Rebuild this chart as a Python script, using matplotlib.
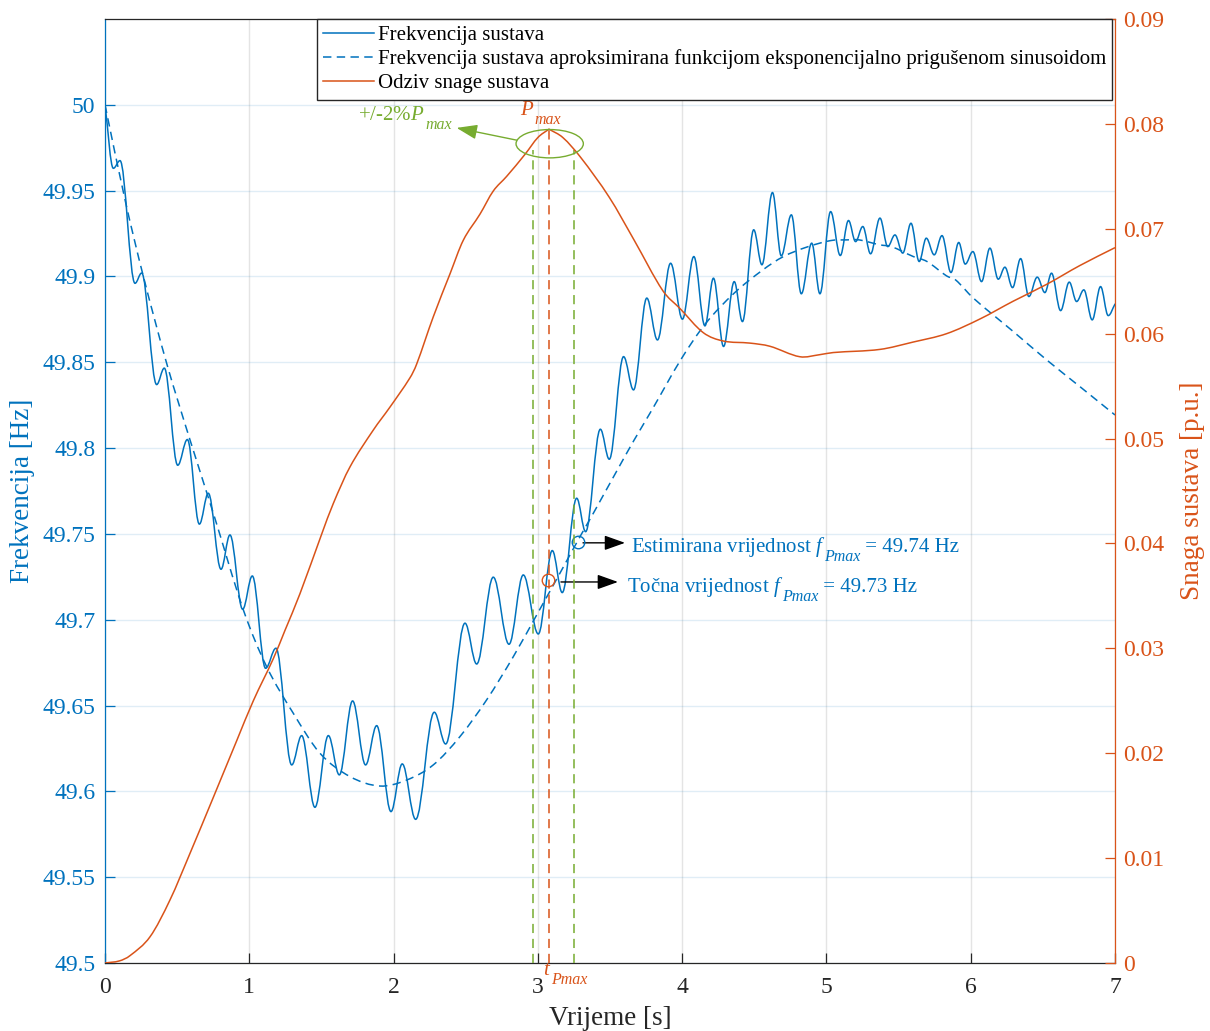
import matplotlib
matplotlib.use('Agg')
import matplotlib.pyplot as plt
from matplotlib.path import Path
from matplotlib.patches import PathPatch, Ellipse, ArrowStyle
from matplotlib.lines import Line2D

plt.rcParams['font.family'] = ['Liberation Serif', 'DejaVu Serif']
plt.rcParams['mathtext.fontset'] = 'custom'
plt.rcParams['mathtext.rm'] = 'Liberation Serif'
plt.rcParams['mathtext.it'] = 'Liberation Serif:italic'
plt.rcParams['mathtext.bf'] = 'Liberation Serif:bold'

BLUE = '#0072BD'
ORANGE = '#D95319'
GREEN = '#77AC30'
DARK = '#262626'

# ---------------- data ----------------
# system frequency (local extrema of the oscillating response)
freq_t = [0.000, 0.058, 0.104, 0.208, 0.254, 0.358, 0.411, 0.504, 0.571, 0.654,
          0.716, 0.804, 0.866, 0.954, 1.021, 1.113, 1.185, 1.294, 1.363, 1.455,
          1.548, 1.624, 1.716, 1.806, 1.883, 1.982, 2.060, 2.153, 2.282, 2.361,
          2.495, 2.576, 2.691, 2.800, 2.899, 3.003, 3.100, 3.169, 3.269, 3.331,
          3.433, 3.495, 3.594, 3.663, 3.755, 3.829, 3.920, 4.002, 4.081, 4.158,
          4.217, 4.287, 4.361, 4.418, 4.496, 4.553, 4.626, 4.687, 4.757, 4.826,
          4.898, 4.955, 5.029, 5.096, 5.153, 5.202, 5.252, 5.306, 5.371, 5.425,
          5.475, 5.529, 5.586, 5.643, 5.692, 5.747, 5.801, 5.863, 5.917, 5.962,
          6.015, 6.075, 6.133, 6.191, 6.237, 6.290, 6.346, 6.403, 6.461, 6.514,
          6.560, 6.623, 6.683, 6.734, 6.784, 6.842, 6.900, 6.953, 7.000]
freq_f = [50.000, 49.963, 49.9675, 49.896, 49.902, 49.837, 49.8466, 49.790, 49.805, 49.7557,
          49.7737, 49.7294, 49.7494, 49.7061, 49.7255, 49.6717, 49.6834, 49.6154, 49.6325, 49.5907,
          49.6325, 49.6096, 49.6527, 49.6154, 49.6383, 49.5882, 49.6160, 49.5837, 49.6461, 49.6276,
          49.6980, 49.6742, 49.7248, 49.6857, 49.7261, 49.6917, 49.7403, 49.7158, 49.7708, 49.7513,
          49.8110, 49.7935, 49.8533, 49.8339, 49.8874, 49.8630, 49.9077, 49.8751, 49.9116, 49.8712,
          49.8990, 49.8592, 49.8970, 49.8737, 49.9272, 49.9068, 49.9489, 49.9120, 49.9359, 49.8899,
          49.9194, 49.8899, 49.9378, 49.9122, 49.9326, 49.9203, 49.9291, 49.9132, 49.9340, 49.9174,
          49.9242, 49.9136, 49.9310, 49.9087, 49.9223, 49.9126, 49.9238, 49.9023, 49.9198, 49.9072,
          49.9145, 49.8970, 49.9165, 49.8984, 49.9054, 49.8935, 49.9104, 49.8883, 49.8996, 49.8906,
          49.9019, 49.8801, 49.8967, 49.8854, 49.8922, 49.8747, 49.8941, 49.8772, 49.8839]

# frequency approximated by exponentially damped sinusoid
fit_t = [0.000, 0.139, 0.266, 0.427, 0.589, 0.751, 0.959, 1.120, 1.305, 1.490,
         1.698, 1.906, 2.091, 2.275, 2.460, 2.645, 2.830, 2.992, 3.153, 3.292,
         3.371, 3.470, 3.569, 3.668, 3.791, 3.990, 4.160, 4.361, 4.559, 4.700,
         4.860, 5.029, 5.140, 5.227, 5.371, 5.450, 5.602, 5.697, 5.833, 5.895,
         6.018, 6.295, 6.526, 6.757, 7.000]
fit_f = [50.000, 49.9446, 49.900, 49.8495, 49.8048, 49.762, 49.7057, 49.6727, 49.6455, 49.6222,
         49.6086, 49.6031, 49.6066, 49.6154, 49.6319, 49.6533, 49.6785, 49.7028, 49.7271, 49.7484,
         49.7600, 49.7750, 49.7900, 49.8048, 49.8223, 49.8514, 49.8723, 49.8903, 49.9038, 49.9115,
         49.9170, 49.9209, 49.9213, 49.9213, 49.9184, 49.9174, 49.9116, 49.9087, 49.9003, 49.8980,
         49.8874, 49.8679, 49.8514, 49.8358, 49.8193]

# system power response
power_t = [0.000, 0.100, 0.173, 0.312, 0.450, 0.589, 0.751, 0.913, 1.028, 1.166,
           1.247, 1.351, 1.502, 1.582, 1.698, 1.859, 1.975, 2.114, 2.160, 2.275,
           2.391, 2.483, 2.599, 2.691, 2.784, 2.911, 3.000, 3.077, 3.173, 3.297,
           3.495, 3.668, 3.866, 3.985, 4.146, 4.285, 4.470, 4.608, 4.816, 4.955,
           5.047, 5.371, 5.601, 5.833, 6.064, 6.295, 6.526, 6.757, 7.000]
power_p = [0.0000, 0.0002, 0.0007, 0.0025, 0.0060, 0.01045, 0.0158, 0.0212, 0.0250, 0.0290,
           0.0317, 0.0352, 0.0409, 0.0438, 0.0473, 0.0508, 0.0530, 0.0558, 0.0571, 0.0616,
           0.0657, 0.0689, 0.0714, 0.0736, 0.0750, 0.0771, 0.0787, 0.0795, 0.0787, 0.0768,
           0.0730, 0.0689, 0.0641, 0.0624, 0.0601, 0.0593, 0.0591, 0.0588, 0.0578, 0.0580,
           0.0582, 0.0585, 0.0592, 0.0600, 0.0614, 0.0631, 0.0647, 0.0665, 0.0682]

x_ticks = [0, 1, 2, 3, 4, 5, 6, 7]
x_tick_labels = ['0', '1', '2', '3', '4', '5', '6', '7']
f_ticks = [49.5, 49.55, 49.6, 49.65, 49.7, 49.75, 49.8, 49.85, 49.9, 49.95, 50.0]
f_tick_labels = ['49.5', '49.55', '49.6', '49.65', '49.7', '49.75', '49.8', '49.85', '49.9', '49.95', '50']
p_ticks = [0, 0.01, 0.02, 0.03, 0.04, 0.05, 0.06, 0.07, 0.08, 0.09]
p_tick_labels = ['0', '0.01', '0.02', '0.03', '0.04', '0.05', '0.06', '0.07', '0.08', '0.09']

legend_labels = ['Frekvencija sustava',
                 'Frekvencija sustava aproksimirana funkcijom eksponencijalno prigušenom sinusoidom',
                 'Odziv snage sustava']

t_pmax = 3.077
p_max = 0.0795
band_t = [2.966, 3.250]
band_p = 0.07755
f_est_point = (3.278, 49.745)
f_exact_point = (3.070, 49.7232)
est_parts = ['Estimirana vrijednost $f$', 'Pmax', ' = 49.74 Hz']
exact_parts = ['Točna vrijednost $f$', 'Pmax', ' = 49.73 Hz']

# ---------------- figure ----------------
fig = plt.figure(figsize=(12.10, 10.31), dpi=100)
ax = fig.add_axes([105 / 1210, 1 - 963 / 1031, 1010 / 1210, 944 / 1031])
ax2 = ax.twinx()

TICK_FS = 17
LABEL_FS = 19.5
TXT_FS = 15
SUB_FS = 11.5
SUB_DROP = -6.5


def extrema_path(t, y, k=0.3642):
    """Smooth rendering through extrema: horizontal tangents at each point."""
    verts = [(t[0], y[0])]
    codes = [Path.MOVETO]
    n = len(t)
    for i in range(n - 1):
        dt = t[i + 1] - t[i]
        dy = y[i + 1] - y[i]
        c1y = y[i] if i > 0 else y[i] + k * dy
        c2y = y[i + 1] if i + 1 < n - 1 else y[i + 1] - k * dy
        verts += [(t[i] + k * dt, c1y), (t[i + 1] - k * dt, c2y), (t[i + 1], y[i + 1])]
        codes += [Path.CURVE4] * 3
    return Path(verts, codes)


def hermite_path(t, y, sharp=()):
    """Smooth rendering through points (cubic Hermite, Catmull-Rom slopes)."""
    n = len(t)
    verts = [(t[0], y[0])]
    codes = [Path.MOVETO]

    def slope(i):
        if i in sharp:
            return None
        a = max(i - 1, 0)
        b = min(i + 1, n - 1)
        return (y[b] - y[a]) / (t[b] - t[a])

    for i in range(n - 1):
        dt = t[i + 1] - t[i]
        s1 = slope(i)
        s2 = slope(i + 1)
        if s1 is None:
            s1 = (y[i + 1] - y[i]) / dt
        if s2 is None:
            s2 = (y[i + 1] - y[i]) / dt
        verts += [(t[i] + dt / 3, y[i] + s1 * dt / 3),
                  (t[i + 1] - dt / 3, y[i + 1] - s2 * dt / 3),
                  (t[i + 1], y[i + 1])]
        codes += [Path.CURVE4] * 3
    return Path(verts, codes)


def sub_text(axis, x, y, parts, color, gap=0.0):
    """Main text + lowered italic subscript + trailing text, MATLAB TeX style."""
    t1 = axis.text(x, y, parts[0], color=color, fontsize=TXT_FS, ha='left',
                   va='baseline', clip_on=False)
    t2 = axis.annotate(parts[1], xy=(1, y), xycoords=(t1, 'data'),
                       xytext=(gap, SUB_DROP), textcoords='offset points',
                       color=color, fontsize=SUB_FS, style='italic',
                       ha='left', va='baseline', annotation_clip=False)
    if len(parts) > 2:
        axis.annotate(parts[2], xy=(1, y), xycoords=(t2, 'data'),
                      xytext=(0, 0), textcoords='offset points',
                      color=color, fontsize=TXT_FS, ha='left', va='baseline',
                      annotation_clip=False)


# left axis: frequency
ax.set_xlim(0, 7)
ax.set_ylim(49.5, 50.05)
ax.add_patch(PathPatch(extrema_path(freq_t, freq_f), fill=False, edgecolor=BLUE,
                       lw=1.1, joinstyle='round', capstyle='round', zorder=3))
ax.add_patch(PathPatch(hermite_path(fit_t, fit_f), fill=False, edgecolor=BLUE,
                       lw=1.1, ls=(0, (5.5, 3.5)), zorder=3))

ax.set_xticks(x_ticks)
ax.set_xticklabels(x_tick_labels)
ax.set_yticks(f_ticks)
ax.set_yticklabels(f_tick_labels)
ax.tick_params(axis='x', direction='in', length=7, width=0.9, colors=DARK,
               labelsize=TICK_FS, pad=10)
ax.tick_params(axis='y', direction='in', length=7, width=0.9, colors=BLUE,
               labelsize=TICK_FS, pad=7)
ax.xaxis.grid(True, color=DARK, alpha=0.12, lw=1.0)
ax.yaxis.grid(True, color=BLUE, alpha=0.12, lw=1.0)
ax.set_axisbelow(True)
ax.spines['left'].set_color(BLUE)
ax.spines['right'].set_visible(False)
ax.spines['top'].set_color(DARK)
ax.spines['bottom'].set_color(DARK)
for s in ax.spines.values():
    s.set_linewidth(0.9)
ax.set_xlabel('Vrijeme [s]', fontsize=LABEL_FS, color=DARK, labelpad=6)
ax.set_ylabel('Frekvencija [Hz]', fontsize=LABEL_FS, color=BLUE, labelpad=5)

# right axis: power
ax2.set_ylim(0, 0.09)
ax2.set_xlim(0, 7)
ax2.add_patch(PathPatch(hermite_path(power_t, power_p, sharp=(27,)), fill=False,
                        edgecolor=ORANGE, lw=1.1, joinstyle='round', zorder=3))
ax2.set_yticks(p_ticks)
ax2.set_yticklabels(p_tick_labels)
ax2.tick_params(axis='y', direction='in', length=7, width=0.9, colors=ORANGE,
                labelsize=TICK_FS, pad=6)
ax2.spines['right'].set_color(ORANGE)
ax2.spines['right'].set_linewidth(0.9)
for side in ['left', 'top', 'bottom']:
    ax2.spines[side].set_visible(False)
ax2.set_ylabel('Snaga sustava [p.u.]', fontsize=LABEL_FS, color=ORANGE, labelpad=11)

# P_max band markers
dash = (0, (6, 3.8))
for tb in band_t:
    ax2.plot([tb, tb], [0, band_p], color=GREEN, lw=1.1, ls=dash, zorder=2)
ax2.plot([t_pmax, t_pmax], [0, p_max], color=ORANGE, lw=1.1, ls=dash, zorder=2)
ax2.add_patch(Ellipse((3.082, 0.07811), 0.4664, 0.0027, fill=False,
                      edgecolor=GREEN, lw=1.0, zorder=4))
arrow_style = ArrowStyle('-|>', head_length=0.7, head_width=0.25)
ax2.annotate('', xy=(2.437, 0.07962), xytext=(2.853, 0.07845),
             arrowprops=dict(arrowstyle=arrow_style, color=GREEN, lw=1.0,
                             shrinkA=0, shrinkB=0, mutation_scale=18))
sub_text(ax2, 1.755, 0.08041, ['+/-2%$P$', 'max'], GREEN, gap=0.3)
sub_text(ax2, 2.876, 0.08088, ['$P$', 'max'], ORANGE, gap=0.3)
sub_text(ax2, 3.033, -0.00114, ['$t$', 'Pmax'], ORANGE, gap=0.0)

# frequency at P_max markers
ax.plot([f_est_point[0]], [f_est_point[1]], 'o', ms=9, mfc='none', mec=BLUE, mew=1.0, zorder=5)
ax.plot([f_exact_point[0]], [f_exact_point[1]], 'o', ms=9, mfc='none', mec=ORANGE, mew=1.0, zorder=5)
ax.annotate('', xy=(3.604, 49.7448), xytext=(3.313, 49.7448),
            arrowprops=dict(arrowstyle=arrow_style, color='k', lw=1.0,
                            shrinkA=0, shrinkB=0, mutation_scale=18))
ax.annotate('', xy=(3.555, 49.722), xytext=(3.160, 49.722),
            arrowprops=dict(arrowstyle=arrow_style, color='k', lw=1.0,
                            shrinkA=0, shrinkB=0, mutation_scale=18))
sub_text(ax, 3.643, 49.7397, est_parts, BLUE, gap=-1.0)
sub_text(ax, 3.617, 49.7164, exact_parts, BLUE, gap=-1.0)

# legend
handles = [Line2D([], [], color=BLUE, lw=1.1),
           Line2D([], [], color=BLUE, lw=1.1, ls=(0, (5.5, 3.5))),
           Line2D([], [], color=ORANGE, lw=1.1)]
leg = ax2.legend(handles, legend_labels, loc='upper right',
                 bbox_to_anchor=(1007 / 1010, 1.0), bbox_transform=ax2.transAxes,
                 fontsize=TXT_FS, frameon=True, fancybox=False, shadow=False,
                 borderaxespad=0, borderpad=0.3, labelspacing=0.22,
                 handlelength=2.45, handletextpad=0.15)
leg.get_frame().set_edgecolor(DARK)
leg.get_frame().set_linewidth(1.0)
leg.get_frame().set_alpha(1.0)
leg.set_zorder(10)

fig.savefig('out.png', dpi=100)
